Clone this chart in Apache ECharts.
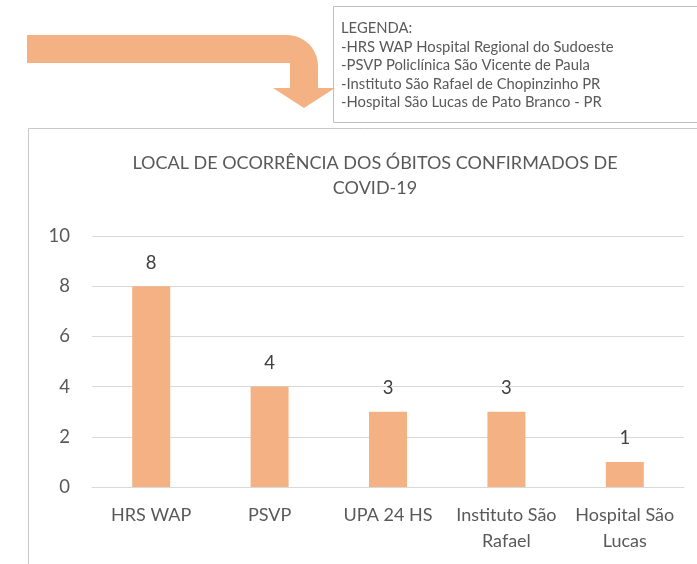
<html>
<head>
<meta charset="utf-8">
<script src="https://cdn.jsdelivr.net/npm/echarts@6/dist/echarts.min.js"></script>
<style>
  body{margin:0;background:#fff;}
  #container{width:697px;height:564px;}
</style>
</head>
<body>
<div id="container"></div>
<script>
var categories = ['HRS WAP', 'PSVP', 'UPA 24 HS', 'Instituto São\nRafael', 'Hospital São\nLucas'];
var obitos = [8, 4, 3, 3, 1];
var yTicks = [0, 2, 4, 6, 8, 10];
var legendLines = [
  'LEGENDA:',
  '-HRS WAP Hospital Regional do Sudoeste',
  '-PSVP Policlínica São Vicente de Paula',
  '-Instituto São Rafael de Chopinzinho PR',
  '-Hospital São Lucas de Pato Branco - PR'
];

var fonte = 'Lato, "Open Sans", sans-serif';
var cinza = '#595959';

// seta curva (decoração)
var seta = [[27, 35]];
for (var i = 0; i <= 10; i++) {
  var a = -Math.PI / 2 + (Math.PI / 2) * i / 10;
  seta.push([287 + 31 * Math.cos(a), 66 + 31 * Math.sin(a)]);
}
seta.push([318, 88], [335, 88], [304, 108], [273, 88], [290, 88], [290, 63], [27, 63]);

var dom = document.getElementById('container');
var myChart = echarts.init(dom);
var option = {
  animation: false,
  backgroundColor: '#fff',
  title: {
    text: 'LOCAL DE OCORRÊNCIA DOS ÓBITOS CONFIRMADOS DE\nCOVID-19',
    left: 370,
    top: 146,
    textAlign: 'center',
    textStyle: { fontFamily: fonte, fontSize: 18, fontWeight: 'normal', color: cinza, lineHeight: 25 }
  },
  grid: { left: 92, right: 13, top: 236, bottom: 77 },
  xAxis: {
    type: 'category',
    data: categories,
    axisLine: { lineStyle: { color: '#D9D9D9' } },
    axisTick: { show: false },
    axisLabel: { fontFamily: fonte, fontSize: 18, color: cinza, lineHeight: 26, margin: 15, interval: 0 }
  },
  yAxis: {
    type: 'value',
    min: yTicks[0],
    max: yTicks[yTicks.length - 1],
    interval: 2,
    axisLine: { show: false },
    axisTick: { show: false },
    splitLine: { lineStyle: { color: '#D9D9D9' } },
    axisLabel: { fontFamily: fonte, fontSize: 18.5, color: cinza, margin: 22 }
  },
  series: [{
    type: 'bar',
    data: obitos,
    barWidth: 38,
    itemStyle: { color: '#F4B183' },
    label: { show: true, position: 'top', distance: 14, fontFamily: fonte, fontSize: 18.5, color: '#404040' }
  }],
  graphic: [
    { type: 'rect', shape: { x: 28.5, y: 128.5, width: 700, height: 500 }, style: { fill: 'none', stroke: '#C8C8C8', lineWidth: 1 }, z: -1 },
    { type: 'rect', shape: { x: 333.5, y: 6.5, width: 400, height: 116 }, style: { fill: '#fff', stroke: '#BFBFBF', lineWidth: 1 } },
    { type: 'text', x: 341, y: 19, style: { text: legendLines.join('\n'), font: '14.8px ' + fonte, lineHeight: 18.6, fill: cinza } },
    { type: 'polygon', shape: { points: seta }, style: { fill: '#F4B183' } }
  ]
};
myChart.setOption(option);
</script>
</body>
</html>
